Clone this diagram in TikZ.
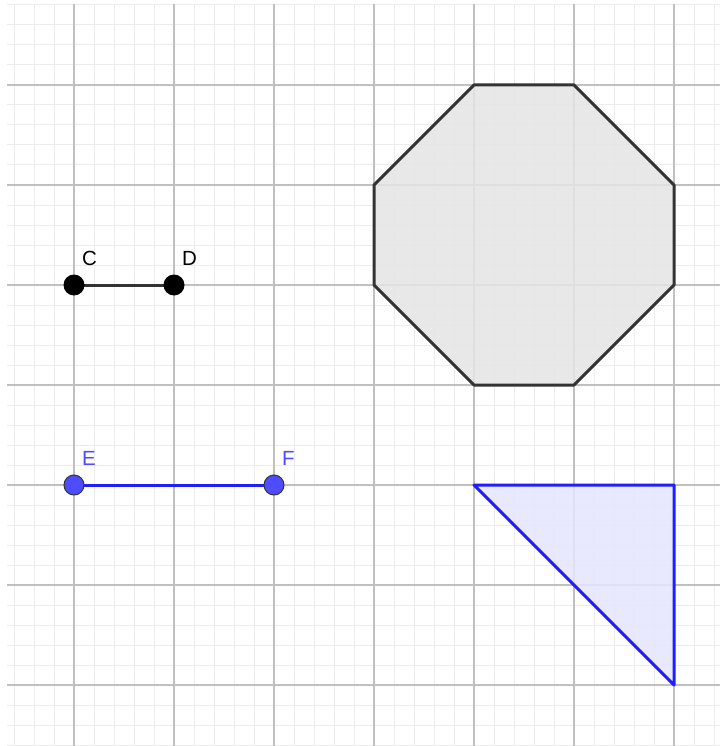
\documentclass[tikz,border=0pt]{standalone}
\usepackage{fontspec}
\setmainfont{Liberation Sans}
\definecolor{minorc}{RGB}{236,236,236}
\definecolor{majorc}{RGB}{192,192,192}
\definecolor{segblue}{RGB}{30,30,255}
\definecolor{ptblue}{RGB}{77,77,255}
\definecolor{octline}{RGB}{51,51,51}
\definecolor{octfill}{RGB}{229,229,229}
\definecolor{trifill}{RGB}{229,229,255}
\definecolor{lblblue}{RGB}{77,77,255}
\tikzset{
  minorline/.style={draw=minorc, line width=1pt},
  majorline/.style={draw=majorc, line width=1.3pt},
  blackdot/.style={circle, fill=black, inner sep=0pt, minimum size=21pt},
  bluedot/.style={circle, fill=ptblue, draw=black!80, line width=1pt, inner sep=0pt, minimum size=20pt},
  blackseg/.style={draw=octline, line width=3pt},
  blueseg/.style={draw=segblue, line width=3pt},
  lbl/.style={anchor=base west, inner sep=0pt, font=\fontsize{20.5}{24}\selectfont},
}
\begin{document}
\begin{tikzpicture}[x=1pt, y=-1pt]
\useasboundingbox (0,0) rectangle (720,746);
\fill[white] (0,0) rectangle (720,746);
% grid
\foreach \x in {14,34,...,714} \draw[minorline] (\x,4) -- (\x,746);
\foreach \y in {5,25,...,745} \draw[minorline] (7,\y) -- (720,\y);
\foreach \x in {74,174,...,674} \draw[majorline] (\x,4) -- (\x,746);
\foreach \y in {85,185,...,685} \draw[majorline] (7,\y) -- (720,\y);
% octagon
\coordinate (O1) at (474,85);
\coordinate (O2) at (574,85);
\coordinate (O3) at (674,185);
\coordinate (O4) at (674,285);
\coordinate (O5) at (574,385);
\coordinate (O6) at (474,385);
\coordinate (O7) at (374,285);
\coordinate (O8) at (374,185);
\filldraw[fill=octfill, fill opacity=0.85, draw=octline, line width=3pt, line join=round]
  (O1) -- (O2) -- (O3) -- (O4) -- (O5) -- (O6) -- (O7) -- (O8) -- cycle;
% triangle
\coordinate (T1) at (474,485);
\coordinate (T2) at (674,485);
\coordinate (T3) at (674,685);
\filldraw[fill=trifill, fill opacity=0.85, draw=segblue, line width=3pt, line join=round]
  (T1) -- (T2) -- (T3) -- cycle;
% segment CD
\coordinate (C) at (74,285);
\coordinate (D) at (174,285);
\draw[blackseg] (C) -- (D);
\node[blackdot] (Cdot) at (C) {};
\node[blackdot] (Ddot) at (D) {};
\node[lbl] (Clbl) at (82,265) {C};
\node[lbl] (Dlbl) at (182,265) {D};
% segment EF
\coordinate (E) at (74,485);
\coordinate (F) at (274,485);
\draw[blueseg] (E) -- (F);
\node[bluedot] (Edot) at (E) {};
\node[bluedot] (Fdot) at (F) {};
\node[lbl, text=lblblue] (Elbl) at (82,465) {E};
\node[lbl, text=lblblue] (Flbl) at (282,465) {F};
\end{tikzpicture}
\end{document}
